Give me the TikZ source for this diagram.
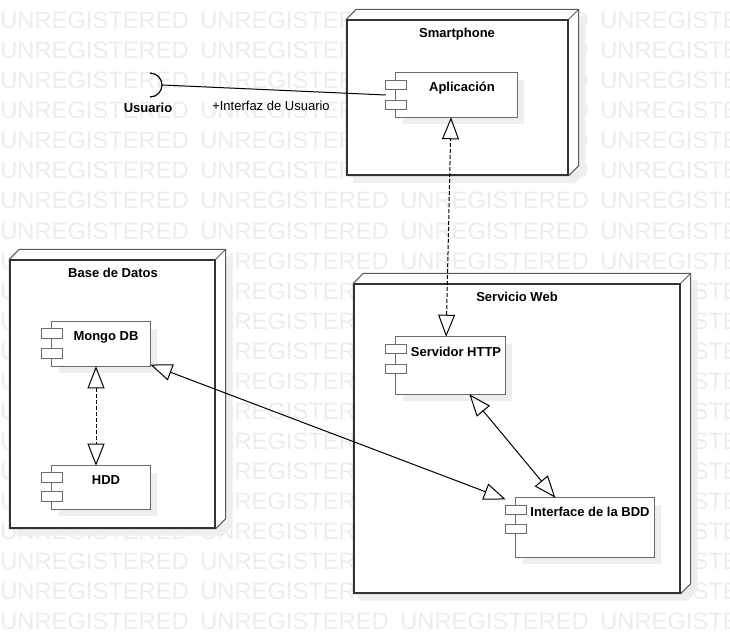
\documentclass[tikz,border=0pt]{standalone}
\usepackage{fontspec}
\setmainfont{Liberation Sans}
\usetikzlibrary{arrows.meta,calc,shadows}

\definecolor{wmgray}{RGB}{236,236,236}
\definecolor{shgray}{RGB}{238,238,238}
\definecolor{edgegray}{RGB}{90,90,90}
\definecolor{partgray}{RGB}{105,105,105}

\tikzset{
  wmark/.style={anchor=base west, inner sep=0pt, text=wmgray, font=\fontsize{17.8}{20}\selectfont},
  nodebox/.style={draw=black!80, line width=1pt, fill=white, inner sep=0pt},
  nodeside/.style={draw=edgegray, line width=0.75pt, fill=white, drop shadow={shadow xshift=5.25pt, shadow yshift=-5.25pt, fill=shgray, opacity=1}},
  compbox/.style={draw=none, inner sep=0pt},
  comp/.style={draw=partgray, line width=1pt, fill=white, drop shadow={shadow xshift=5.25pt, shadow yshift=-5.25pt, fill=shgray, opacity=1}},
  comppart/.style={draw=partgray, line width=1pt, fill=white},
  lbl/.style={anchor=base, inner sep=0pt, font=\fontsize{9.75}{11.7}\selectfont\bfseries},
  txt/.style={anchor=base, inner sep=0pt, font=\fontsize{9.75}{11.7}\selectfont},
  assoc/.style={line width=0.75pt, arrows={Triangle[open,length=16.5pt,width=12.75pt]-Triangle[open,length=16.5pt,width=12.75pt]}},
  dassoc/.style={assoc, dash pattern=on 3pt off 1.5pt},
}

\begin{document}
\begin{tikzpicture}[x=0.75pt,y=0.75pt,yscale=-1,xscale=1]
\useasboundingbox (0,0) rectangle (730,634);

% Watermark
\begin{scope}
\clip (0,0) rectangle (730,634);
\foreach \r in {0,...,20}
  \foreach \c in {0,...,3}
    \node[wmark] (wm-\r-\c) at (200*\c,29+30*\r) {UNREGISTERED};
\end{scope}

%Shape: Node Smartphone
\node[nodebox, minimum width=165.75pt, minimum height=116.25pt] (smart) at (457.5,97.5) {};
\draw[nodeside] (smart.north west) -- ($(smart.north west)+(10,-10)$) -- ($(smart.north east)+(10,-10)$) -- ($(smart.south east)+(10,-10)$) -- (smart.south east) -- (smart.south west) -- cycle;
\node[nodebox, minimum width=165.75pt, minimum height=116.25pt] at (smart) {};
\draw[draw=edgegray, line width=0.75pt] (smart.north east) -- ($(smart.north east)+(10,-10)$);

%Shape: Node Base de Datos
\node[nodebox, minimum width=153.75pt, minimum height=201pt] (bdd) at (112.5,394) {};
\draw[nodeside] (bdd.north west) -- ($(bdd.north west)+(10,-10)$) -- ($(bdd.north east)+(10,-10)$) -- ($(bdd.south east)+(10,-10)$) -- (bdd.south east) -- (bdd.south west) -- cycle;
\node[nodebox, minimum width=153.75pt, minimum height=201pt] at (bdd) {};
\draw[draw=edgegray, line width=0.75pt] (bdd.north east) -- ($(bdd.north east)+(10,-10)$);

%Shape: Node Servicio Web
\node[nodebox, minimum width=244.5pt, minimum height=231.75pt] (web) at (517,438.5) {};
\draw[nodeside] (web.north west) -- ($(web.north west)+(10,-10)$) -- ($(web.north east)+(10,-10)$) -- ($(web.south east)+(10,-10)$) -- (web.south east) -- (web.south west) -- cycle;
\node[nodebox, minimum width=244.5pt, minimum height=231.75pt] at (web) {};
\draw[draw=edgegray, line width=0.75pt] (web.north east) -- ($(web.north east)+(10,-10)$);

%Shape: Component Aplicacion
\node[compbox, minimum width=98.25pt, minimum height=33pt] (apl) at (451.5,95) {};
\draw[comp] ($(apl.north west)+(10,0)$) rectangle (apl.south east);
\draw[comppart] ($(apl.north west)+(0,8)$) rectangle ++(21,9);
\draw[comppart] ($(apl.north west)+(0,28)$) rectangle ++(21,9);

%Shape: Component Servidor HTTP
\node[compbox, minimum width=89.25pt, minimum height=42.75pt] (srv) at (445.5,365.5) {};
\draw[comp] ($(srv.north west)+(10,0)$) rectangle (srv.south east);
\draw[comppart] ($(srv.north west)+(0,8)$) rectangle ++(21,9);
\draw[comppart] ($(srv.north west)+(0,28)$) rectangle ++(21,9);

%Shape: Component Interface de la BDD
\node[compbox, minimum width=111pt, minimum height=44.25pt] (ibdd) at (580,527.5) {};
\draw[comp] ($(ibdd.north west)+(10,0)$) rectangle (ibdd.south east);
\draw[comppart] ($(ibdd.north west)+(0,8)$) rectangle ++(21,9);
\draw[comppart] ($(ibdd.north west)+(0,27)$) rectangle ++(21,9);

%Shape: Component Mongo DB
\node[compbox, minimum width=81pt, minimum height=33pt] (mongo) at (96,344) {};
\draw[comp] ($(mongo.north west)+(10,0)$) rectangle (mongo.south east);
\draw[comppart] ($(mongo.north west)+(0,7)$) rectangle ++(21,10);
\draw[comppart] ($(mongo.north west)+(0,27)$) rectangle ++(21,10);

%Shape: Component HDD
\node[compbox, minimum width=81pt, minimum height=32.25pt] (hdd) at (96,487.5) {};
\draw[comp] ($(hdd.north west)+(10,0)$) rectangle (hdd.south east);
\draw[comppart] ($(hdd.north west)+(0,7)$) rectangle ++(21,10);
\draw[comppart] ($(hdd.north west)+(0,26)$) rectangle ++(21,10);

%Shape: Required interface Usuario
\coordinate (usr) at (162,85);
\draw[line width=0.9pt] ($(usr)+(-12,12)$) arc[start angle=90, end angle=-90, radius=12];

%Straight Lines
\draw[line width=0.75pt] (usr) -- (apl.west);
\draw[dassoc] (srv) -- (apl);
\draw[dassoc] (mongo) -- (hdd);
\draw[assoc] (mongo) -- (ibdd);
\draw[assoc] (srv) -- (ibdd);

% Text Node
\node[lbl] (smart-t) at (457,37.5) {Smartphone};
% Text Node
\node[lbl] (bdd-t) at (113,277) {Base de Datos};
% Text Node
\node[lbl] (web-t) at (517,301) {Servicio Web};
% Text Node
\node[lbl] (apl-t) at (462,92) {Aplicación};
% Text Node
\node[lbl] (srv-t) at (456,356) {Servidor HTTP};
% Text Node
\node[lbl] (ibdd-t) at (590,516) {Interface de la BDD};
% Text Node
\node[lbl] (mongo-t) at (106,340) {Mongo DB};
% Text Node
\node[lbl] (hdd-t) at (106,484) {HDD};
% Text Node
\node[lbl] (usr-t) at (148,113) {Usuario};
% Text Node
\node[txt] (intf-t) at (271,111) {+Interfaz de Usuario};

\end{tikzpicture}
\end{document}
